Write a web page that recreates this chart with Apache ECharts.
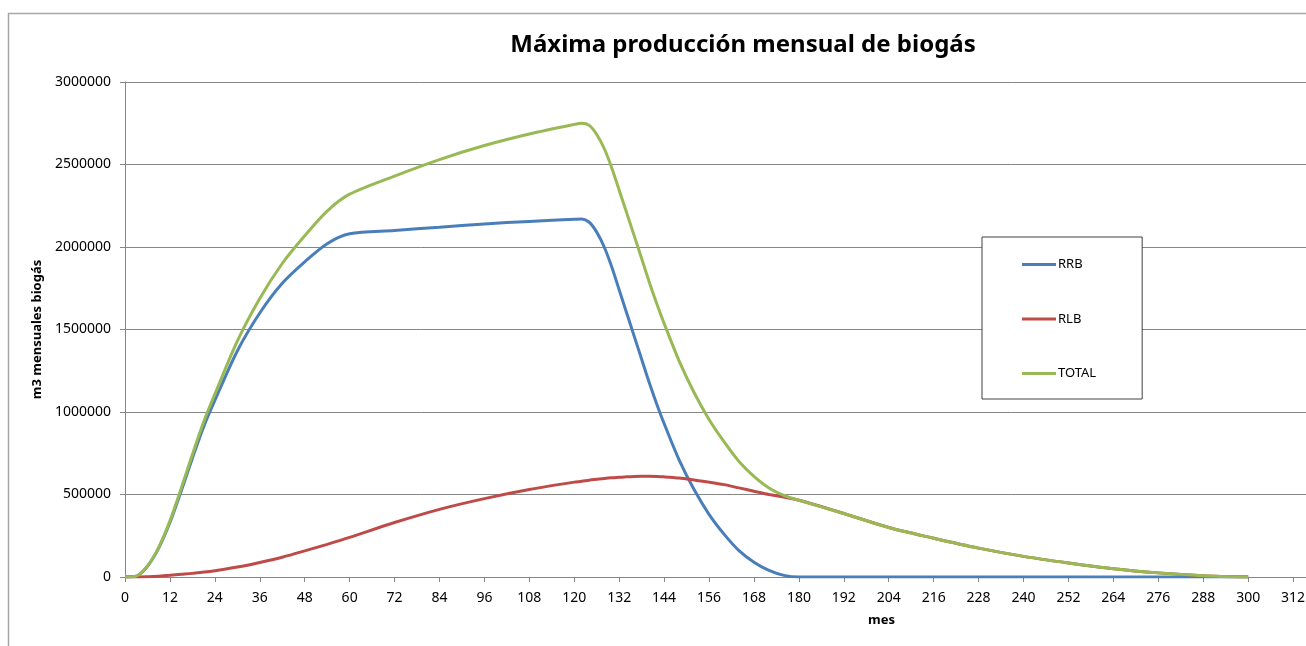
<!DOCTYPE html>
<html>
<head>
<meta charset="utf-8">
<script src="https://cdn.jsdelivr.net/npm/echarts@6/dist/echarts.min.js"></script>
<style>
  html, body { margin: 0; padding: 0; background: #ffffff; }
  #chart { width: 1306px; height: 646px; }
</style>
</head>
<body>
<div id="chart"></div>
<script>
// Months (x values) shared by all three series
const months = [0, 3, 6, 9, 12, 15, 18, 21, 24, 30, 36, 42, 48, 54, 60, 72, 84, 96, 108, 120,
  122, 124, 126, 128, 130, 132, 134, 136, 138, 140, 142, 144, 148, 152, 156, 160, 164, 168,
  172, 176, 180, 192, 204, 216, 228, 240, 252, 264, 276, 288, 300];

// Monthly biogas, m3 — RRB
const rrb = [0, 5000, 65000, 175000, 330000, 520000, 720000, 910000, 1070000, 1370000, 1600000,
  1780000, 1910000, 2020000, 2080000, 2100000, 2120000, 2140000, 2155000, 2168000,
  2170000, 2150000, 2090000, 2000000, 1880000, 1740000, 1600000, 1460000, 1320000, 1180000,
  1050000, 930000, 710000, 530000, 380000, 260000, 160000, 90000,
  40000, 10000, 0, 0, 0, 0, 0, 0, 0, 0, 0, 0, 0];

// Monthly biogas, m3 — RLB
const rlb = [0, 0, 2000, 5000, 10000, 16000, 22000, 30000, 38000, 60000, 88000, 120000, 158000,
  198000, 240000, 330000, 410000, 475000, 530000, 575000,
  580000, 587000, 592000, 597000, 601000, 604000, 607000, 609000, 610000, 610000, 609000,
  607000, 600000, 588000, 575000, 560000, 540000, 520000,
  500000, 485000, 465000, 385000, 300000, 235000, 175000, 125000, 85000, 50000, 25000, 8000, 0];

// Monthly biogas, m3 — TOTAL
const total = [0, 5000, 67000, 180000, 340000, 536000, 742000, 940000, 1108000, 1430000, 1688000,
  1900000, 2068000, 2218000, 2320000, 2430000, 2530000, 2615000, 2685000, 2743000,
  2750000, 2737000, 2682000, 2597000, 2481000, 2344000, 2207000, 2069000, 1930000, 1790000,
  1659000, 1537000, 1310000, 1118000, 955000, 820000, 700000, 610000,
  540000, 495000, 465000, 385000, 300000, 235000, 175000, 125000, 85000, 50000, 25000, 8000, 0];

const seriesNames = ['RRB', 'RLB', 'TOTAL'];
const seriesColors = ['#4a7ebb', '#be4b48', '#98b954'];
const seriesValues = [rrb, rlb, total];

const chart = echarts.init(document.getElementById('chart'), null, { renderer: 'canvas' });

const axisGray = '#868686';
const font = '"Noto Sans", "DejaVu Sans", sans-serif';

chart.setOption({
  animation: false,
  backgroundColor: '#ffffff',
  title: {
    text: 'Máxima producción mensual de biogás',
    left: 738,
    top: 28,
    textAlign: 'center',
    textStyle: { fontFamily: font, fontWeight: 'bold', fontSize: 24, color: '#000000' }
  },
  legend: {
    orient: 'vertical',
    left: 982,
    top: 237,
    padding: [21, 46, 19, 40],
    itemGap: 41.5,
    itemWidth: 34,
    itemHeight: 3,
    icon: 'rect',
    borderColor: '#404040',
    borderWidth: 1,
    backgroundColor: '#ffffff',
    textStyle: { fontFamily: font, fontSize: 13, color: '#000000', padding: [0, 0, 0, -3] },
    data: seriesNames
  },
  // plot area runs past the right edge, so the axis continues off-canvas
  grid: { left: 125, top: 82, bottom: 69, right: -32, outerBoundsMode: 'none' },
  xAxis: {
    type: 'value',
    min: 0,
    max: 324,
    interval: 12,
    axisLine: { show: true, lineStyle: { color: axisGray, width: 1 } },
    axisTick: { show: true, length: 5, lineStyle: { color: axisGray } },
    splitLine: { show: false },
    axisLabel: { margin: 14, fontFamily: font, fontSize: 14, color: '#000000' }
  },
  yAxis: {
    type: 'value',
    min: 0,
    max: 3000000,
    interval: 500000,
    name: 'm3 mensuales biogás',
    nameLocation: 'middle',
    nameGap: 70,
    nameRotate: 90,
    nameTextStyle: { fontFamily: font, fontWeight: 'bold', fontSize: 13, color: '#000000' },
    axisLine: { show: true, lineStyle: { color: axisGray, width: 1 } },
    axisTick: { show: true, length: 5, lineStyle: { color: axisGray } },
    splitLine: { show: true, lineStyle: { color: axisGray, width: 1 } },
    axisLabel: {
      margin: 14, fontFamily: font, fontSize: 14, color: '#000000',
      formatter: (v) => String(v)
    }
  },
  graphic: [
    // outer chart frame (left and top edges)
    { type: 'polyline', silent: true,
      shape: { points: [[8.5, 660], [8.5, 13.5], [1320, 13.5]] },
      style: { stroke: '#a6a6a6', lineWidth: 1.5, fill: null } },
    { type: 'text', left: 868, top: 614,
      style: { text: 'mes', font: 'bold 13px ' + font, fill: '#000000' } }
  ],
  series: seriesNames.map((name, i) => ({
    name: name,
    type: 'line',
    data: months.map((m, j) => [m, seriesValues[i][j]]),
    showSymbol: false,
    symbol: 'none',
    smooth: 0.3,
    lineStyle: { color: seriesColors[i], width: 3 },
    itemStyle: { color: seriesColors[i] },
    z: 3 + i
  }))
});
</script>
</body>
</html>
